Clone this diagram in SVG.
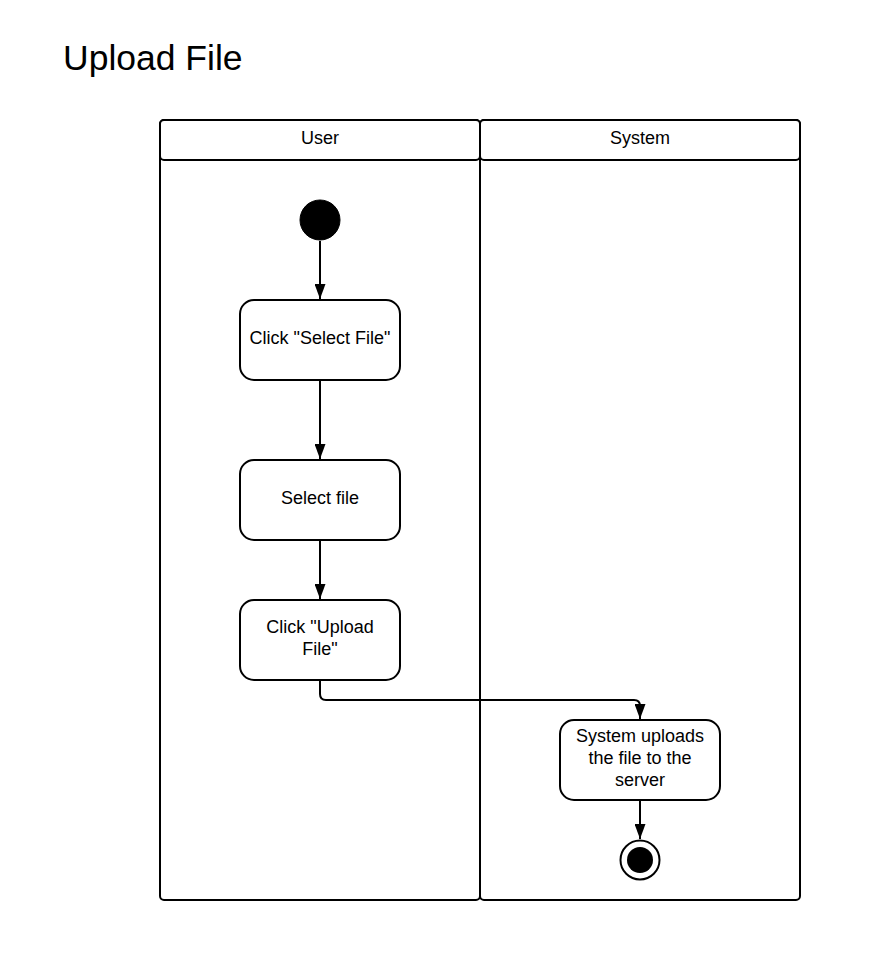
<svg xmlns="http://www.w3.org/2000/svg" width="879" height="955" viewBox="0 0 879 955">
<defs>
<style>
.ln{fill:none;stroke:#000;stroke-width:2}
.bx{fill:#fff;stroke:#000;stroke-width:2}
.t{font-family:"Liberation Sans",Arial,sans-serif;font-size:18px;fill:#000;text-anchor:middle}
.title{font-family:"Liberation Sans",Arial,sans-serif;font-size:35.5px;fill:#000}
</style>
<marker id="arr" viewBox="0 0 10 10" refX="10" refY="5" markerWidth="15" markerHeight="11" markerUnits="userSpaceOnUse" orient="auto" preserveAspectRatio="none">
<path d="M0,0 L10,5 L0,10 z" fill="#000"/>
</marker>
</defs>
<rect width="879" height="955" fill="#fff"/>
<text class="title" x="63" y="70">Upload File</text>
<g id="lane-user">
<rect class="bx" x="160" y="120" width="320" height="780" rx="4"/>
<rect class="bx" x="160" y="120" width="320" height="40" rx="4"/>
<text class="t" x="320" y="144">User</text>
</g>
<g id="lane-system">
<rect class="bx" x="480" y="120" width="320" height="780" rx="4"/>
<rect class="bx" x="480" y="120" width="320" height="40" rx="4"/>
<text class="t" x="640" y="144">System</text>
</g>
<g id="connectors">
<path class="ln" d="M320,241 V299" marker-end="url(#arr)"/>
<path class="ln" d="M320,381 V459" marker-end="url(#arr)"/>
<path class="ln" d="M320,541 V599" marker-end="url(#arr)"/>
<path class="ln" d="M320,681 V694 Q320,700 326,700 H634 Q640,700 640,706 V719" marker-end="url(#arr)"/>
<path class="ln" d="M640,801 V839" marker-end="url(#arr)"/>
</g>
<g id="start">
<circle cx="320" cy="220" r="20" fill="#000" stroke="#000" stroke-width="1"/>
</g>
<g id="n1">
<rect class="bx" x="240" y="300" width="160" height="80" rx="14"/>
<text class="t" x="320" y="344">Click "Select File"</text>
</g>
<g id="n2">
<rect class="bx" x="240" y="460" width="160" height="80" rx="14"/>
<text class="t" x="320" y="504">Select file</text>
</g>
<g id="n3">
<rect class="bx" x="240" y="600" width="160" height="80" rx="14"/>
<text class="t" x="320" y="633">Click "Upload</text>
<text class="t" x="320" y="655">File"</text>
</g>
<g id="n4">
<rect class="bx" x="560" y="720" width="160" height="80" rx="14"/>
<text class="t" x="640" y="742">System uploads</text>
<text class="t" x="640" y="764">the file to the</text>
<text class="t" x="640" y="786">server</text>
</g>
<g id="end">
<circle cx="640" cy="860" r="19.5" fill="#fff" stroke="#000" stroke-width="2"/>
<circle cx="640" cy="860" r="13" fill="#000"/>
</g>
</svg>
